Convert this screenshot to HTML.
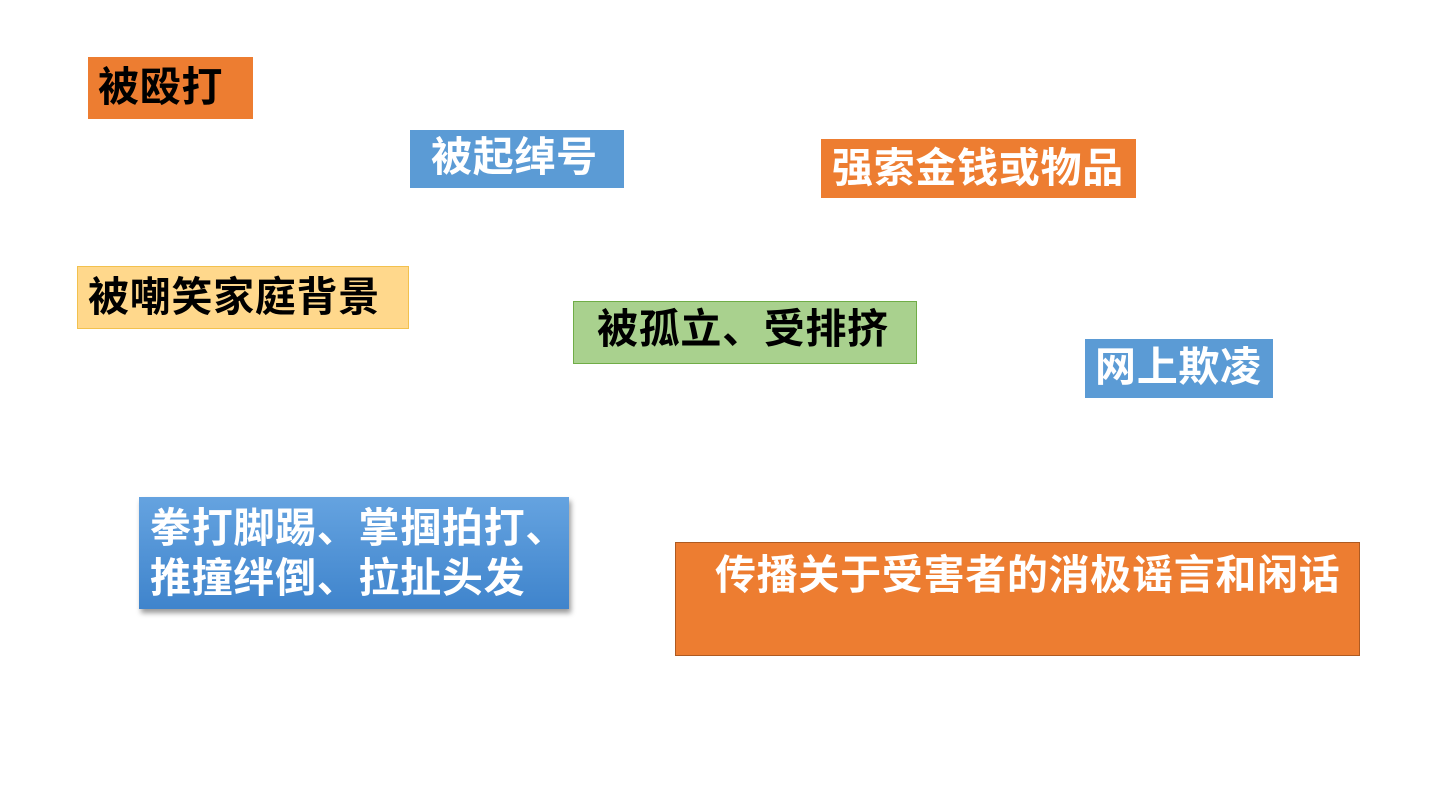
<!DOCTYPE html>
<html><head><meta charset="utf-8"><style>
body{margin:0;width:1440px;height:810px;background:#fff;position:relative;overflow:hidden;font-family:"Liberation Sans","Noto Sans CJK SC",sans-serif;font-weight:bold;font-size:41px;letter-spacing:0.7px}
.b{position:absolute;box-sizing:border-box;white-space:nowrap;line-height:1}
</style></head><body>
<div class="b" style="left:88px;top:57px;width:165px;height:62px;background:#ED7D31;color:#000;padding:10px 0 0 10px">被殴打</div>
<div class="b" style="left:410px;top:130px;width:214px;height:58px;background:#5B9BD5;color:#fff;padding:7px 0 0 21px">被起绰号</div>
<div class="b" style="left:821px;top:139px;width:315px;height:59px;background:#ED7D31;color:#fff;padding:9px 0 0 11px">强索金钱或物品</div>
<div class="b" style="left:77px;top:266px;width:332px;height:63px;background:#FFD88C;border:1px solid #F2C14E;color:#000;padding:10px 0 0 10px">被嘲笑家庭背景</div>
<div class="b" style="left:573px;top:301px;width:344px;height:63px;background:#A9D18E;border:1px solid #70AD47;color:#000;padding:7px 0 0 23px">被孤立、受排挤</div>
<div class="b" style="left:1085px;top:339px;width:188px;height:59px;background:#5B9BD5;color:#fff;padding:8px 0 0 10px">网上欺凌</div>
<div class="b" style="left:139px;top:497px;width:430px;height:112px;background:linear-gradient(#65A3E0,#3F84CC);color:#fff;padding:6px 0 0 11px;line-height:50px;box-shadow:2px 4px 5px rgba(0,0,0,0.4)">拳打脚踢、掌掴拍打、<br>推撞绊倒、拉扯头发</div>
<div class="b" style="left:675px;top:542px;width:685px;height:114px;background:#ED7D31;border:1px solid #AE5A21;color:#fff;padding:12px 0 0 39px">传播关于受害者的消极谣言和闲话</div>
</body></html>
